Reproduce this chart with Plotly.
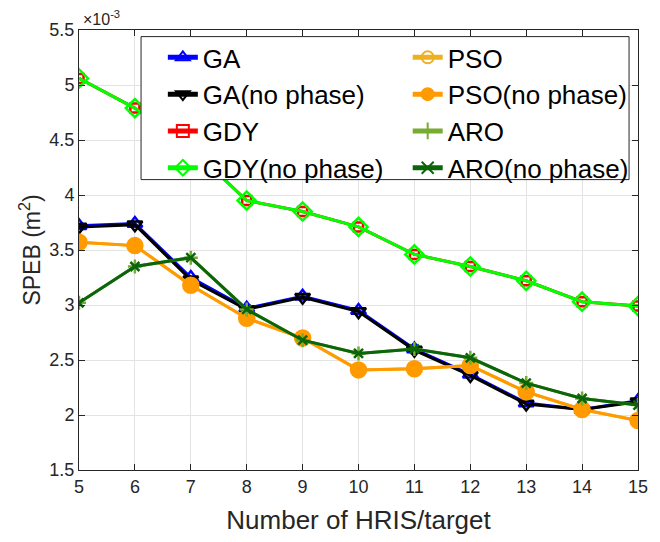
import plotly.graph_objects as go

# x axis: number of HRIS per target
n_hris = [5, 6, 7, 8, 9, 10, 11, 12, 13, 14, 15]

# SPEB values, in units of 1e-3 m^2
ga = [3.72, 3.74, 3.25, 2.97, 3.08, 2.95, 2.60, 2.37, 2.11, 2.05, 2.13]
ga_np = [3.71, 3.73, 3.23, 2.96, 3.07, 2.94, 2.59, 2.36, 2.10, 2.05, 2.12]
gdy = [5.06, 4.79, 4.43, 3.95, 3.85, 3.71, 3.46, 3.35, 3.22, 3.03, 2.99]
gdy_np = [5.06, 4.79, 4.43, 3.95, 3.85, 3.71, 3.46, 3.35, 3.22, 3.03, 2.99]
pso = [3.57, 3.54, 3.18, 2.88, 2.70, 2.41, 2.42, 2.45, 2.21, 2.05, 1.95]
pso_np = [3.57, 3.54, 3.18, 2.88, 2.70, 2.41, 2.42, 2.45, 2.21, 2.05, 1.95]
aro = [3.02, 3.35, 3.43, 2.96, 2.68, 2.56, 2.60, 2.52, 2.29, 2.15, 2.09]
aro_np = [3.02, 3.35, 3.43, 2.96, 2.68, 2.56, 2.60, 2.52, 2.29, 2.15, 2.09]

y_ticks = [1.5, 2, 2.5, 3, 3.5, 4, 4.5, 5, 5.5]
y_ticktext = ['1.5', '2', '2.5', '3', '3.5', '4', '4.5', '5', '5.5']

FONT = 'Liberation Sans, Arial, sans-serif'

# name, values, colour, symbol, marker size, which legend column
series = [
    ('GA', ga, '#0000FF', 'triangle-up-open', 13, 'legend'),
    ('GA(no phase)', ga_np, '#000000', 'triangle-down-open', 13, 'legend'),
    ('GDY', gdy, '#FF0000', 'square-open', 9, 'legend'),
    ('GDY(no phase)', gdy_np, '#00FF00', 'diamond-open', 14, 'legend'),
    ('PSO', pso, '#EDB120', 'circle-open', 11, 'legend2'),
    ('PSO(no phase)', pso_np, '#FF9A00', 'circle', 15, 'legend2'),
    ('ARO', aro, '#77AC30', 'cross-thin-open', 10, 'legend2'),
    ('ARO(no phase)', aro_np, '#0B650B', 'x-thin-open', 9, 'legend2'),
]

fig = go.Figure()
for name, vals, color, symbol, size, leg in series:
    fig.add_trace(go.Scatter(
        x=n_hris, y=vals, name=name, mode='lines+markers',
        line=dict(color=color, width=3),
        marker=dict(symbol=symbol, size=size, color=color,
                    line=dict(color=color, width=2.5)),
        legend=leg,
    ))

axis_common = dict(
    showline=True, linecolor='#262626', linewidth=1, mirror='ticks',
    ticks='inside', ticklen=6, tickcolor='#262626',
    showgrid=True, gridcolor='#E3E3E3', gridwidth=1,
    zeroline=False,
    tickfont=dict(family=FONT, size=18, color='#262626'),
)

legend_common = dict(yanchor='top', y=0.991, xanchor='left',
                     bgcolor='rgba(0,0,0,0)', itemsizing='constant',
                     font=dict(size=26, color='black'), tracegroupgap=0)

# page body has an 8px margin, so the figure is 8px smaller than the window
fig.update_layout(
    width=652, height=534,
    margin=dict(l=71, r=15, t=20, b=68),
    paper_bgcolor='white', plot_bgcolor='white',
    font=dict(family=FONT, color='#262626'),
    xaxis=dict(range=[5, 15], dtick=1,
               title=dict(text='Number of HRIS/target', font=dict(size=26), standoff=15),
               **axis_common),
    yaxis=dict(range=[1.5, 5.5], tickvals=y_ticks, ticktext=y_ticktext,
               title=dict(text='SPEB (m<sup>2</sup>)', font=dict(size=23), standoff=2),
               **axis_common),
    legend=dict(x=0.150, **legend_common),
    legend2=dict(x=0.588, **legend_common),
    shapes=[dict(type='rect', xref='paper', yref='paper',
                 x0=0.111, x1=0.984, y0=0.660, y1=0.985,
                 fillcolor='white', line=dict(color='#262626', width=1),
                 layer='above')],
    annotations=[dict(text='\u00d710<sup>-3</sup>', xref='paper', yref='paper',
                      x=0.004, y=1.0, xanchor='left', yanchor='bottom',
                      showarrow=False, font=dict(size=16, color='#262626'))],
)

fig.write_html('out.html')
